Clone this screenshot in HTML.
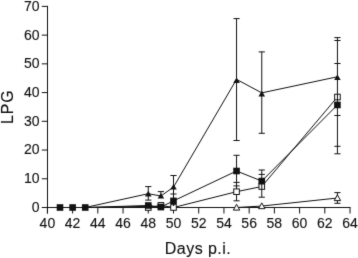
<!DOCTYPE html>
<html><head><meta charset="utf-8"><style>
html,body{margin:0;padding:0;background:#fff;width:358px;height:258px;overflow:hidden}
svg{display:block;will-change:transform}
.t{font-family:"Liberation Sans",sans-serif;font-size:14px;fill:#111;stroke:#111;stroke-width:0.12px}
.l{font-family:"Liberation Sans",sans-serif;font-size:16px;fill:#111;stroke:#111;stroke-width:0.12px}
</style></head><body>
<svg width="358" height="258" viewBox="0 0 358 258">
<defs><filter id="f" x="0" y="0" width="358" height="258" filterUnits="userSpaceOnUse" color-interpolation-filters="sRGB"><feConvolveMatrix order="3" kernelMatrix="0.01000 0.08000 0.01000 0.08000 0.64000 0.08000 0.01000 0.08000 0.01000" edgeMode="duplicate"/></filter></defs>
<g filter="url(#f)"><rect width="358" height="258" fill="#fff"/>
<path d="M47.5 5.89 V213.5 M47.0 207.5 H350.5" stroke="#111" stroke-width="1.0" fill="none"/>
<path d="M41.8 207.50 H47.5" stroke="#111" stroke-width="1.0"/>
<text x="39.5" y="211.90" text-anchor="end" class="t">0</text>
<path d="M41.8 178.77 H47.5" stroke="#111" stroke-width="1.0"/>
<text x="39.5" y="183.17" text-anchor="end" class="t">10</text>
<path d="M41.8 150.04 H47.5" stroke="#111" stroke-width="1.0"/>
<text x="39.5" y="154.44" text-anchor="end" class="t">20</text>
<path d="M41.8 121.31 H47.5" stroke="#111" stroke-width="1.0"/>
<text x="39.5" y="125.71" text-anchor="end" class="t">30</text>
<path d="M41.8 92.58 H47.5" stroke="#111" stroke-width="1.0"/>
<text x="39.5" y="96.98" text-anchor="end" class="t">40</text>
<path d="M41.8 63.85 H47.5" stroke="#111" stroke-width="1.0"/>
<text x="39.5" y="68.25" text-anchor="end" class="t">50</text>
<path d="M41.8 35.12 H47.5" stroke="#111" stroke-width="1.0"/>
<text x="39.5" y="39.52" text-anchor="end" class="t">60</text>
<path d="M41.8 6.39 H47.5" stroke="#111" stroke-width="1.0"/>
<text x="39.5" y="10.79" text-anchor="end" class="t">70</text>
<path d="M47.40 207.5 V213.5" stroke="#111" stroke-width="1.0"/>
<text x="47.40" y="227.6" text-anchor="middle" class="t">40</text>
<path d="M72.62 207.5 V213.5" stroke="#111" stroke-width="1.0"/>
<text x="72.62" y="227.6" text-anchor="middle" class="t">42</text>
<path d="M97.84 207.5 V213.5" stroke="#111" stroke-width="1.0"/>
<text x="97.84" y="227.6" text-anchor="middle" class="t">44</text>
<path d="M123.06 207.5 V213.5" stroke="#111" stroke-width="1.0"/>
<text x="123.06" y="227.6" text-anchor="middle" class="t">46</text>
<path d="M148.28 207.5 V213.5" stroke="#111" stroke-width="1.0"/>
<text x="148.28" y="227.6" text-anchor="middle" class="t">48</text>
<path d="M173.50 207.5 V213.5" stroke="#111" stroke-width="1.0"/>
<text x="173.50" y="227.6" text-anchor="middle" class="t">50</text>
<path d="M198.72 207.5 V213.5" stroke="#111" stroke-width="1.0"/>
<text x="198.72" y="227.6" text-anchor="middle" class="t">52</text>
<path d="M223.94 207.5 V213.5" stroke="#111" stroke-width="1.0"/>
<text x="223.94" y="227.6" text-anchor="middle" class="t">54</text>
<path d="M249.16 207.5 V213.5" stroke="#111" stroke-width="1.0"/>
<text x="249.16" y="227.6" text-anchor="middle" class="t">56</text>
<path d="M274.38 207.5 V213.5" stroke="#111" stroke-width="1.0"/>
<text x="274.38" y="227.6" text-anchor="middle" class="t">58</text>
<path d="M299.60 207.5 V213.5" stroke="#111" stroke-width="1.0"/>
<text x="299.60" y="227.6" text-anchor="middle" class="t">60</text>
<path d="M324.82 207.5 V213.5" stroke="#111" stroke-width="1.0"/>
<text x="324.82" y="227.6" text-anchor="middle" class="t">62</text>
<path d="M350.04 207.5 V213.5" stroke="#111" stroke-width="1.0"/>
<text x="350.04" y="227.6" text-anchor="middle" class="t">64</text>
<text x="198" y="253.6" text-anchor="middle" class="l" letter-spacing="0.45">Days p.i.</text>
<text transform="translate(12.9 106.7) rotate(-90)" text-anchor="middle" class="l" letter-spacing="0.8">LPG</text>
<path d="M60.01 207.50 L72.62 207.50 L85.23 207.50 L148.28 206.35 L160.89 206.93 L173.50 207.50 L236.55 207.50 L261.77 206.06 L337.43 198.02" stroke="#111" stroke-width="1.0" fill="none"/>
<path d="M60.01 207.50 L72.62 207.50 L85.23 207.50 L148.28 207.50 L160.89 205.40 L173.50 207.50 L236.55 191.70 L261.77 186.53 L337.43 97.03" stroke="#111" stroke-width="1.0" fill="none"/>
<path d="M60.01 207.50 L72.62 207.50 L85.23 207.50 L148.28 205.49 L160.89 207.07 L173.50 200.89 L236.55 171.01 L261.77 181.07 L337.43 104.93" stroke="#111" stroke-width="1.0" fill="none"/>
<path d="M60.01 207.50 L72.62 207.50 L85.23 207.50 L148.28 193.71 L160.89 196.01 L173.50 187.10 L236.55 79.36 L261.77 92.87 L337.43 76.78" stroke="#111" stroke-width="1.0" fill="none"/>
<path d="M236.55 186.0 V200.8" stroke="#111" stroke-width="1.0"/>
<path d="M233.45 200.8 H239.65" stroke="#111" stroke-width="1.0"/>
<path d="M337.43 192.6 V203.3" stroke="#111" stroke-width="1.0"/>
<path d="M334.33 192.6 H340.53" stroke="#111" stroke-width="1.0"/>
<path d="M334.33 203.3 H340.53" stroke="#111" stroke-width="1.0"/>
<polygon points="236.55,204.30 239.75,210.10 233.35,210.10" fill="#fff" stroke="#111" stroke-width="1.0"/>
<polygon points="261.77,202.86 264.97,208.66 258.57,208.66" fill="#fff" stroke="#111" stroke-width="1.0"/>
<polygon points="337.43,194.82 340.63,200.62 334.23,200.62" fill="#fff" stroke="#111" stroke-width="1.0"/>
<rect x="145.48" y="204.70" width="5.6" height="5.6" fill="#fff" stroke="#111" stroke-width="1.0"/>
<rect x="158.09" y="202.60" width="5.6" height="5.6" fill="#fff" stroke="#111" stroke-width="1.0"/>
<rect x="170.70" y="204.70" width="5.6" height="5.6" fill="#fff" stroke="#111" stroke-width="1.0"/>
<rect x="233.75" y="188.90" width="5.6" height="5.6" fill="#fff" stroke="#111" stroke-width="1.0"/>
<rect x="258.97" y="183.73" width="5.6" height="5.6" fill="#fff" stroke="#111" stroke-width="1.0"/>
<rect x="334.63" y="94.23" width="5.6" height="5.6" fill="#fff" stroke="#111" stroke-width="1.0"/>
<path d="M148.28 186.6 V200.1" stroke="#111" stroke-width="1.0"/>
<path d="M145.18 186.6 H151.38" stroke="#111" stroke-width="1.0"/>
<path d="M145.18 200.1 H151.38" stroke="#111" stroke-width="1.0"/>
<path d="M160.89 191.6 V197.0" stroke="#111" stroke-width="1.0"/>
<path d="M157.79 191.6 H163.99" stroke="#111" stroke-width="1.0"/>
<path d="M173.50 175.5 V206.0" stroke="#111" stroke-width="1.0"/>
<path d="M170.40 175.5 H176.60" stroke="#111" stroke-width="1.0"/>
<path d="M170.40 194.0 H176.60" stroke="#111" stroke-width="1.0"/>
<path d="M236.55 18.6 V140.5" stroke="#111" stroke-width="1.0"/>
<path d="M236.55 155.3 V186.0" stroke="#111" stroke-width="1.0"/>
<path d="M233.45 18.6 H239.65" stroke="#111" stroke-width="1.0"/>
<path d="M233.45 140.5 H239.65" stroke="#111" stroke-width="1.0"/>
<path d="M233.45 155.3 H239.65" stroke="#111" stroke-width="1.0"/>
<path d="M233.45 182.4 H239.65" stroke="#111" stroke-width="1.0"/>
<path d="M233.45 185.9 H239.65" stroke="#111" stroke-width="1.0"/>
<path d="M261.77 51.9 V133.3" stroke="#111" stroke-width="1.0"/>
<path d="M261.77 170.0 V197.2" stroke="#111" stroke-width="1.0"/>
<path d="M258.67 51.9 H264.87" stroke="#111" stroke-width="1.0"/>
<path d="M258.67 133.3 H264.87" stroke="#111" stroke-width="1.0"/>
<path d="M258.67 170.0 H264.87" stroke="#111" stroke-width="1.0"/>
<path d="M258.67 174.4 H264.87" stroke="#111" stroke-width="1.0"/>
<path d="M258.67 197.2 H264.87" stroke="#111" stroke-width="1.0"/>
<path d="M337.43 37.6 V153.8" stroke="#111" stroke-width="1.0"/>
<path d="M334.33 37.6 H340.53" stroke="#111" stroke-width="1.0"/>
<path d="M334.33 40.5 H340.53" stroke="#111" stroke-width="1.0"/>
<path d="M334.33 63.5 H340.53" stroke="#111" stroke-width="1.0"/>
<path d="M334.33 115.5 H340.53" stroke="#111" stroke-width="1.0"/>
<path d="M334.33 146.3 H340.53" stroke="#111" stroke-width="1.0"/>
<path d="M334.33 153.8 H340.53" stroke="#111" stroke-width="1.0"/>
<rect x="56.71" y="204.20" width="6.6" height="6.6" fill="#111"/>
<rect x="69.32" y="204.20" width="6.6" height="6.6" fill="#111"/>
<rect x="81.93" y="204.20" width="6.6" height="6.6" fill="#111"/>
<rect x="144.98" y="202.19" width="6.6" height="6.6" fill="#111"/>
<rect x="157.59" y="203.77" width="6.6" height="6.6" fill="#111"/>
<rect x="170.20" y="197.59" width="6.6" height="6.6" fill="#111"/>
<rect x="233.25" y="167.71" width="6.6" height="6.6" fill="#111"/>
<rect x="258.47" y="177.77" width="6.6" height="6.6" fill="#111"/>
<rect x="334.13" y="101.63" width="6.6" height="6.6" fill="#111"/>
<polygon points="148.28,190.80 151.58,196.40 144.98,196.40" fill="#111"/>
<polygon points="160.89,193.00 164.19,198.60 157.59,198.60" fill="#111"/>
<polygon points="173.50,184.00 176.80,189.60 170.20,189.60" fill="#111"/>
<polygon points="236.55,77.40 239.85,83.00 233.25,83.00" fill="#111"/>
<polygon points="261.77,90.80 265.07,96.40 258.47,96.40" fill="#111"/>
<polygon points="337.43,74.40 340.73,80.00 334.13,80.00" fill="#111"/>
</g></svg>
</body></html>
